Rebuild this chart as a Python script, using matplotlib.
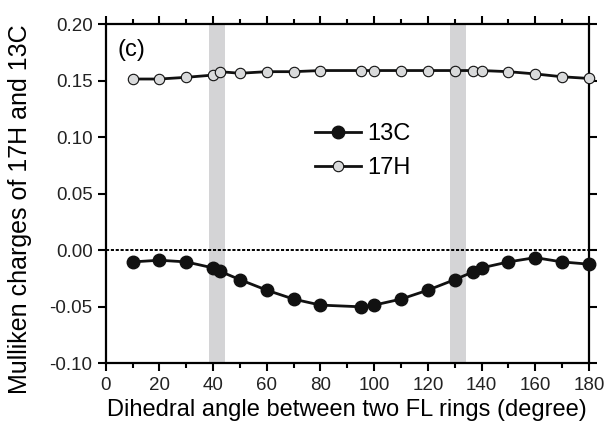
import matplotlib
matplotlib.use("Agg")
import matplotlib.pyplot as plt
import numpy as np
from matplotlib.ticker import MultipleLocator

plt.rcParams['font.family'] = ['Liberation Sans', 'DejaVu Sans']

# dihedral angles (degree)
angles = [10, 20, 30, 40, 42.5, 50, 60, 70, 80, 95, 100, 110, 120, 130, 137, 140, 150, 160, 170, 180]
# Mulliken charges
c13 = [-0.0103, -0.0088, -0.0103, -0.0156, -0.0185, -0.026, -0.0353, -0.0432, -0.0485, -0.050,
       -0.0485, -0.0432, -0.0353, -0.026, -0.019, -0.0156, -0.0103, -0.0065, -0.0103, -0.0123]
h17 = [0.1515, 0.1515, 0.153, 0.155, 0.158, 0.1566, 0.158, 0.158, 0.159, 0.159,
       0.159, 0.159, 0.159, 0.159, 0.159, 0.159, 0.158, 0.156, 0.1535, 0.152]
bands = [(38.5, 44.5), (128.2, 134.3)]

fig = plt.figure(figsize=(6.04, 4.32), dpi=100)
ax = fig.add_axes([0.175, 0.159, 0.8, 0.785])

for b in bands:
    ax.axvspan(b[0], b[1], color='#d4d4d6', lw=0, zorder=0)

ax.axhline(0, color='black', ls=(0, (1.6, 0.9)), lw=1.4, zorder=1)

ax.plot(angles, c13, '-o', color='#111111', lw=2, ms=9, mfc='#111111', mec='#111111',
        label='13C', zorder=3, clip_on=False)
ax.plot(angles, h17, '-o', color='#111111', lw=2, ms=7.5, mfc='#d9dadb', mec='#111111',
        mew=0.8, label='17H', zorder=3, clip_on=False)

ax.set_xlim(0, 180)
ax.set_ylim(-0.10, 0.20)
ax.xaxis.set_major_locator(MultipleLocator(20))
ax.xaxis.set_minor_locator(MultipleLocator(10))
ax.set_yticks(np.arange(-0.10, 0.201, 0.05))
ax.set_yticklabels(['%.2f' % v for v in np.arange(-0.10, 0.201, 0.05)])
ax.tick_params(which='both', direction='out', top=True, right=True, labelsize=13.5,
               width=1.5, labelcolor='#222222')
ax.tick_params(which='major', length=6)
ax.tick_params(which='minor', length=3.5)
for s in ax.spines.values():
    s.set_linewidth(1.6)

ax.set_xlabel('Dihedral angle between two FL rings (degree)', fontsize=17, labelpad=4)
ax.set_ylabel('Mulliken charges of 17H and 13C', fontsize=18)
ax.yaxis.set_label_coords(-0.153, 0.455)

ax.text(4.5, 0.172, '(c)', fontsize=17)

ax.legend(loc='upper left', bbox_to_anchor=(0.39, 0.77), frameon=False, fontsize=17,
          handlelength=1.95, labelspacing=0.5, handletextpad=0.25)

plt.savefig('out.png', dpi=100)
